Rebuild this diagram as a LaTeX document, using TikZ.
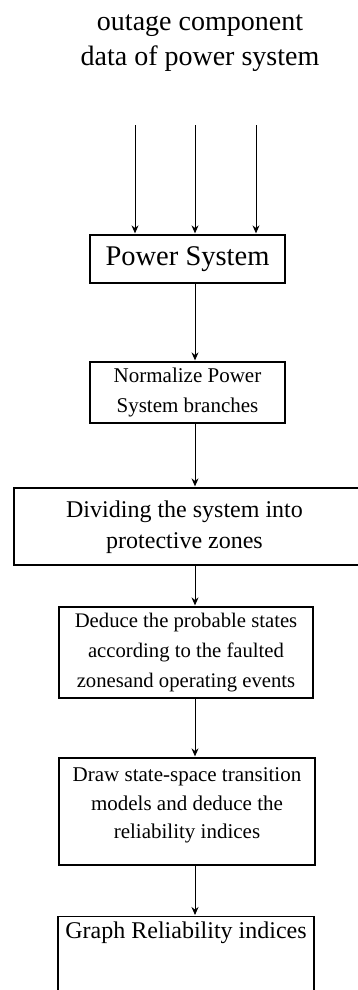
\documentclass[tikz,border=0pt]{standalone}
\usepackage{fontspec}
\setmainfont{Liberation Serif}
\usetikzlibrary{arrows.meta}
\begin{document}
\begin{tikzpicture}[x=1pt,y=1pt,
  box/.style={draw, line width=1.3pt, align=center, inner sep=0pt},
  arr/.style={line width=1pt, -{Stealth[length=8pt,width=7pt]}, shorten >=1pt}]
\useasboundingbox (0,0) rectangle (358,-990);
\clip (0,0) rectangle (358,-990);
\fill[white] (0,0) rectangle (358,-990);
\node[align=center, font=\fontsize{28}{35}\selectfont] (title) at (200,-43) {outage component\\data of power system};
\node[box, minimum width=195, minimum height=48, font=\fontsize{28.5}{34}\selectfont] (ps) at (187.5,-259) {Power System};
\node[box, minimum width=195, minimum height=61, font=\fontsize{21}{30}\selectfont] (nm) at (187.5,-392.5) {Normalize Power\\System branches};
\node[box, minimum width=360, minimum height=77, font=\fontsize{24}{31}\selectfont, text depth=0pt] (dv) at (194,-526.5) {};
\node[align=center, font=\fontsize{24}{31}\selectfont] (dvt) at (184.5,-527) {Dividing the system into\\protective zones};
\node[box, minimum width=254, minimum height=91, font=\fontsize{20.7}{30}\selectfont] (dd) at (186,-652.5) {Deduce the probable states\\according to the faulted\\zonesand operating events};
\node[box, minimum width=256, minimum height=107, font=\fontsize{21}{28.5}\selectfont, text depth=16pt] (dr) at (187,-811.5) {Draw state-space transition\\models and deduce the\\reliability indices};
\node[box, anchor=north, minimum width=256, inner ysep=5pt, text height=17pt, text depth=110pt, font=\fontsize{24}{30}\selectfont] (gr) at (186,-916) {Graph Reliability indices};
\coordinate (col) at (195,0);
\coordinate (in1) at (135,-125);
\coordinate (in2) at (195,-125);
\coordinate (in3) at (256,-125);
\draw[arr] (in1) -- (in1 |- ps.north);
\draw[arr] (in2) -- (in2 |- ps.north);
\draw[arr] (in3) -- (in3 |- ps.north);
\draw[arr] (ps.south -| col) -- (nm.north -| col);
\draw[arr] (nm.south -| col) -- (dv.north -| col);
\draw[arr] (dv.south -| col) -- (dd.north -| col);
\draw[arr] (dd.south -| col) -- (dr.north -| col);
\draw[arr] (dr.south -| col) -- (gr.north -| col);
\end{tikzpicture}
\end{document}
